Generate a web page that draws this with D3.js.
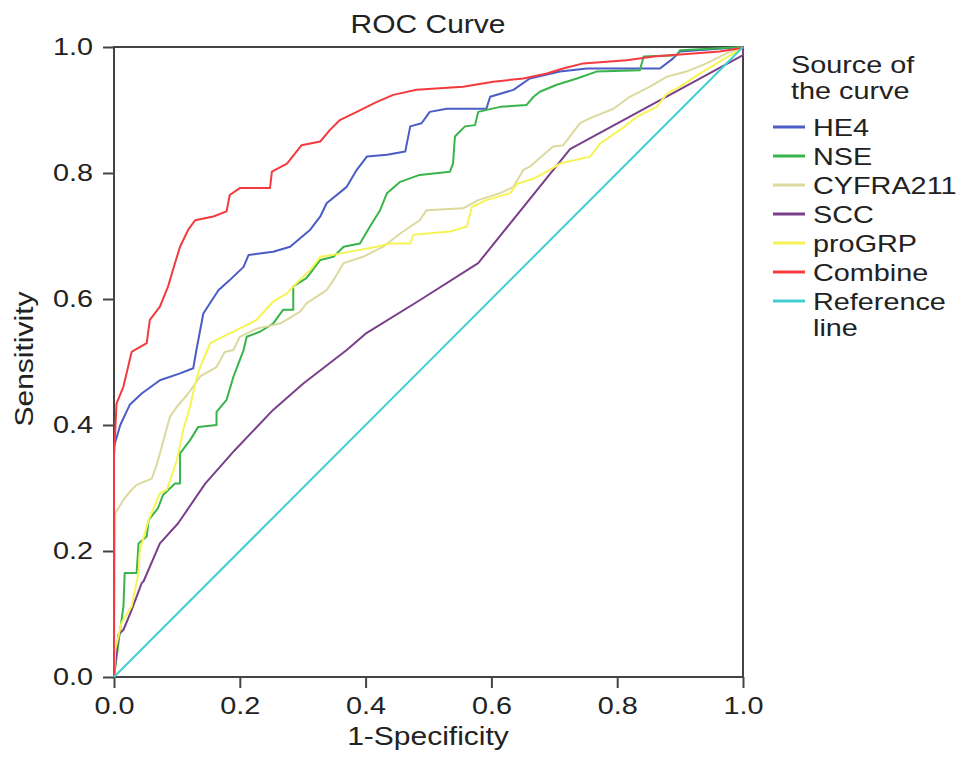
<!DOCTYPE html>
<html>
<head>
<meta charset="utf-8">
<script src="https://cdn.jsdelivr.net/npm/d3@7"></script>
<style>
body { margin: 0; background: #fff; }
text { font-family: "Liberation Sans", Arial, Helvetica, sans-serif; fill: #222; }
</style>
</head>
<body>
<svg id="chart" width="969" height="776"></svg>
<script>
// ROC points: [1-specificity, sensitivity]
const he4 = [[0,0],[0,0.366],[0.01,0.4],[0.025,0.432],[0.044,0.45],[0.073,0.471],[0.105,0.482],[0.126,0.49],[0.131,0.519],[0.142,0.577],[0.166,0.614],[0.184,0.63],[0.206,0.651],[0.214,0.67],[0.253,0.675],[0.28,0.683],[0.312,0.71],[0.328,0.731],[0.338,0.752],[0.37,0.778],[0.386,0.805],[0.402,0.826],[0.434,0.829],[0.463,0.834],[0.471,0.874],[0.489,0.879],[0.502,0.897],[0.529,0.902],[0.592,0.902],[0.598,0.921],[0.635,0.932],[0.661,0.95],[0.709,0.961],[0.752,0.966],[0.868,0.966],[0.889,0.982],[0.9,0.993],[1,1]]
const nse = [[0,0],[0.008,0.061],[0.015,0.112],[0.017,0.165],[0.036,0.165],[0.039,0.212],[0.052,0.223],[0.055,0.249],[0.07,0.268],[0.078,0.289],[0.097,0.307],[0.105,0.307],[0.105,0.355],[0.121,0.376],[0.134,0.397],[0.163,0.4],[0.163,0.421],[0.179,0.44],[0.19,0.477],[0.2,0.503],[0.206,0.519],[0.211,0.54],[0.232,0.548],[0.253,0.561],[0.269,0.583],[0.285,0.583],[0.285,0.62],[0.306,0.633],[0.328,0.662],[0.349,0.667],[0.365,0.683],[0.391,0.688],[0.407,0.715],[0.423,0.741],[0.434,0.768],[0.455,0.786],[0.486,0.797],[0.534,0.802],[0.539,0.815],[0.542,0.858],[0.558,0.874],[0.574,0.876],[0.579,0.897],[0.614,0.905],[0.656,0.908],[0.667,0.921],[0.677,0.929],[0.704,0.94],[0.736,0.95],[0.767,0.961],[0.836,0.963],[0.842,0.985],[0.895,0.987],[0.9,0.995],[1,1]]
const cyfra = [[0,0],[0.002,0.26],[0.015,0.281],[0.025,0.294],[0.036,0.305],[0.06,0.315],[0.068,0.337],[0.076,0.366],[0.089,0.413],[0.1,0.429],[0.118,0.45],[0.137,0.477],[0.163,0.492],[0.176,0.516],[0.19,0.519],[0.2,0.54],[0.227,0.553],[0.264,0.561],[0.296,0.58],[0.306,0.593],[0.338,0.614],[0.349,0.63],[0.365,0.657],[0.396,0.667],[0.428,0.683],[0.455,0.704],[0.486,0.725],[0.497,0.741],[0.555,0.744],[0.579,0.757],[0.614,0.768],[0.635,0.778],[0.651,0.805],[0.661,0.81],[0.698,0.842],[0.714,0.844],[0.741,0.879],[0.757,0.887],[0.794,0.902],[0.82,0.921],[0.852,0.937],[0.879,0.953],[0.91,0.961],[0.942,0.974],[0.974,0.99],[1,1]]
const scc = [[0,0],[0.007,0.067],[0.015,0.075],[0.028,0.106],[0.044,0.149],[0.047,0.152],[0.073,0.212],[0.102,0.244],[0.145,0.307],[0.192,0.36],[0.253,0.424],[0.301,0.466],[0.37,0.519],[0.4,0.545],[0.486,0.598],[0.579,0.657],[0.725,0.838],[1,0.987],[1,1]]
const progrp = [[0,0],[0.002,0.043],[0.012,0.086],[0.028,0.112],[0.039,0.165],[0.041,0.2],[0.055,0.249],[0.073,0.292],[0.084,0.297],[0.1,0.344],[0.11,0.392],[0.121,0.429],[0.129,0.466],[0.137,0.492],[0.153,0.53],[0.179,0.543],[0.206,0.556],[0.227,0.567],[0.253,0.596],[0.275,0.609],[0.29,0.625],[0.312,0.646],[0.328,0.667],[0.359,0.672],[0.391,0.678],[0.418,0.683],[0.439,0.688],[0.471,0.688],[0.476,0.702],[0.534,0.707],[0.561,0.715],[0.569,0.746],[0.592,0.757],[0.63,0.768],[0.641,0.783],[0.667,0.791],[0.693,0.805],[0.709,0.815],[0.757,0.826],[0.773,0.847],[0.804,0.868],[0.831,0.889],[0.863,0.905],[0.879,0.926],[0.9,0.937],[0.932,0.958],[0.958,0.974],[0.985,0.99],[1,1]]
const combine = [[0,0],[0,0.35],[0.004,0.434],[0.015,0.461],[0.028,0.516],[0.052,0.53],[0.057,0.567],[0.073,0.588],[0.086,0.62],[0.097,0.657],[0.105,0.683],[0.118,0.71],[0.129,0.725],[0.158,0.731],[0.179,0.739],[0.184,0.765],[0.2,0.776],[0.248,0.776],[0.251,0.802],[0.275,0.815],[0.298,0.844],[0.328,0.85],[0.343,0.868],[0.359,0.884],[0.386,0.897],[0.418,0.913],[0.444,0.924],[0.481,0.932],[0.555,0.937],[0.603,0.945],[0.651,0.95],[0.688,0.958],[0.714,0.966],[0.746,0.974],[0.815,0.979],[0.858,0.985],[0.963,0.993],[0.995,0.998],[1,1]]
const reference = [[0,0],[1,1]]

const seriesNames = ['HE4', 'NSE', 'CYFRA211', 'SCC', 'proGRP', 'Combine', 'Reference\nline']
const seriesData = [he4, nse, cyfra, scc, progrp, combine, reference]
const seriesColors = ['#4a5cc6', '#38b44a', '#dcd99e', '#7a3f8b', '#f6f455', '#f43a3f', '#42cfd3']
const tickValues = [0, 0.2, 0.4, 0.6, 0.8, 1.0]

var svg = d3.select('#chart')

var x = d3.scaleLinear().domain([0, 1]).range([114, 743])
var y = d3.scaleLinear().domain([0, 1]).range([677, 47])

// axes
var xAxis = svg.append('g')
    .attr('transform', 'translate(0,677)')
    .call(d3.axisBottom(x).tickValues(tickValues).tickSize(11).tickPadding(9).tickFormat(d3.format('.1f')))
var yAxis = svg.append('g')
    .attr('transform', 'translate(114,0)')
    .call(d3.axisLeft(y).tickValues(tickValues).tickSize(11).tickPadding(10).tickFormat(d3.format('.1f')))

for (let ax of [xAxis, yAxis]) {
    ax.select('.domain').remove()
    ax.selectAll('line').attr('stroke', '#444').attr('stroke-width', 2)
    ax.selectAll('text').attr('font-size', 24).attr('fill', '#222')
    ax.attr('font-family', null)
}

// frame
svg.append('rect')
    .attr('x', x(0)).attr('y', y(1))
    .attr('width', x(1) - x(0)).attr('height', y(0) - y(1))
    .attr('fill', 'none').attr('stroke', '#444').attr('stroke-width', 2)

// curves
var line = d3.line()
    .x(d => x(d[0]))
    .y(d => y(d[1]))

var plot = svg.append('g')
seriesData.forEach((data, i) => {
    plot.append('path')
        .datum(data)
        .attr('d', line)
        .attr('fill', 'none')
        .attr('stroke', seriesColors[i])
        .attr('stroke-width', 2)
        .attr('stroke-linejoin', 'round')
})

// titles
svg.append('text').attr('x', 428).attr('y', 33)
    .attr('text-anchor', 'middle').attr('font-size', 25).text('ROC Curve')
svg.append('text').attr('x', 428).attr('y', 745)
    .attr('text-anchor', 'middle').attr('font-size', 25).text('1-Specificity')
svg.append('text').attr('transform', 'translate(33,359) rotate(-90)')
    .attr('text-anchor', 'middle').attr('font-size', 25).text('Sensitivity')

// legend
var legend = svg.append('g')
legend.append('text').attr('x', 791).attr('y', 73).attr('font-size', 24).text('Source of')
legend.append('text').attr('x', 791).attr('y', 99).attr('font-size', 24).text('the curve')

seriesNames.forEach((name, i) => {
    let cy = 127 + i * 29
    legend.append('line')
        .attr('x1', 773).attr('x2', 805)
        .attr('y1', cy).attr('y2', cy)
        .attr('stroke', seriesColors[i]).attr('stroke-width', 3)
    name.split('\n').forEach((part, j) => {
        legend.append('text')
            .attr('x', 813).attr('y', cy + 9 + j * 26)
            .attr('font-size', 24)
            .text(part)
    })
})

// the original lettering is wider than Liberation Sans: stretch it
svg.selectAll('text').each(function() {
    var w = this.getComputedTextLength()
    this.setAttribute('textLength', w * 1.2)
    this.setAttribute('lengthAdjust', 'spacingAndGlyphs')
})
</script>
</body>
</html>
